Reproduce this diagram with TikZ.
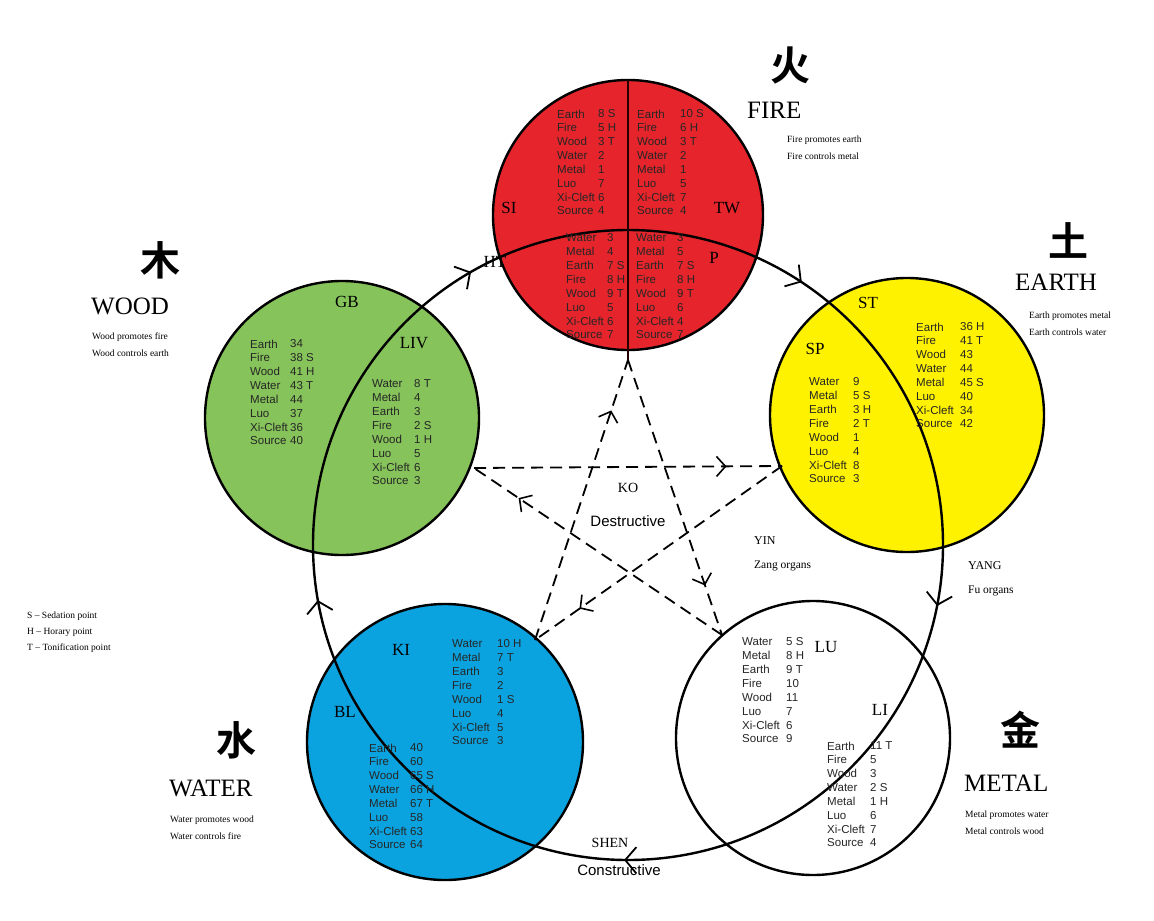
\documentclass[tikz,border=0pt]{standalone}
\usepackage{fontspec}
\setmainfont{Liberation Serif}
\setsansfont{Liberation Sans}
\newfontfamily\cjk{Noto Sans CJK SC Bold}
\usetikzlibrary{arrows.meta,decorations.markings}
\definecolor{fired}{HTML}{E5242B}
\definecolor{earthy}{HTML}{FFF200}
\definecolor{woodg}{HTML}{86C35A}
\definecolor{waterb}{HTML}{0BA3DF}
\tikzset{
  elem/.style={draw=black,line width=2.4pt},
  tbl/.style={font=\sffamily\fontsize{11.5}{12}\selectfont,anchor=west,inner sep=0pt,text=black!85},
  organ/.style={font=\fontsize{17}{18}\selectfont,inner sep=0pt},
  ename/.style={font=\fontsize{25}{26}\selectfont,anchor=west,inner sep=0pt},
  note/.style={font=\fontsize{9.5}{10}\selectfont,anchor=west,inner sep=0pt},
  hanzi/.style={font=\cjk\fontsize{40}{40}\selectfont,inner sep=0pt},
  kochev/.style={postaction={decorate},decoration={markings,mark=at position 0.82 with {\arrow{Straight Barb[length=9pt,width=20pt,line width=1.6pt]}}}},
  ko/.style={dashed,dash pattern=on 12pt off 7pt,line width=1.8pt,kochev},
}
\newcommand\organtable[5]{%
  \foreach \n/\v [count=\i from 0] in {#5}{
    \node[tbl] (#1n\i) at (#2,#4+\i*13.85) {\n};
    \node[tbl] (#1v\i) at (#3,#4+\i*13.85) {\v};
  }}
\begin{document}
\begin{tikzpicture}[x=1pt,y=-1pt]
\useasboundingbox (0,0) rectangle (1154,921);
\fill[white] (0,0) rectangle (1154,921);
% element circles
\draw[elem,fill=fired] (628,215) circle (135);
\draw[elem,fill=earthy] (907,415) circle (137);
\draw[elem,fill=white] (813,738) circle (137);
\draw[elem,fill=waterb] (445,742) circle (138);
\draw[elem,fill=woodg] (342,418) circle (137);
% shen cycle
\draw[line width=2.4pt,postaction={decorate},decoration={markings,
  mark=at position 0.031 with {\arrow{Straight Barb[length=11pt,width=26pt,line width=1.8pt]}},
  mark=at position 0.252 with {\arrow{Straight Barb[length=11pt,width=26pt,line width=1.8pt]}},
  mark=at position 0.472 with {\arrow{Straight Barb[length=11pt,width=26pt,line width=1.8pt]}},
  mark=at position 0.667 with {\arrow{Straight Barb[length=11pt,width=26pt,line width=1.8pt]}},
  mark=at position 0.843 with {\arrow{Straight Barb[length=11pt,width=26pt,line width=1.8pt]}}}]
  (628,545) circle (315);
% fire divider
\coordinate (ftop) at (628,80);
\coordinate (fbot) at (628,360);
\draw[line width=2.6pt,black!85!red] (ftop) -- (fbot);
% ko cycle
\coordinate (kfire) at (628,360);
\coordinate (kearth) at (782,466);
\coordinate (kmetal) at (722,635);
\coordinate (kwater) at (535,640);
\coordinate (kwood) at (474,468);
\draw[ko] (kfire) -- (kmetal);
\draw[ko] (kmetal) -- (kwood);
\draw[ko] (kwood) -- (kearth);
\draw[ko] (kearth) -- (kwater);
\draw[ko] (kwater) -- (kfire);
% tables
\organtable{si}{557}{598}{114}{Earth/8 S,Fire/5 H,Wood/3 T,Water/2,Metal/1,Luo/7,Xi-Cleft/6,Source/4}
\organtable{tw}{637}{680}{114}{Earth/10 S,Fire/6 H,Wood/3 T,Water/2,Metal/1,Luo/5,Xi-Cleft/7,Source/4}
\organtable{ht}{566}{607}{238}{Water/3,Metal/4,Earth/7 S,Fire/8 H,Wood/9 T,Luo/5,Xi-Cleft/6,Source/7}
\organtable{pc}{636}{677}{238}{Water/3,Metal/5,Earth/7 S,Fire/8 H,Wood/9 T,Luo/6,Xi-Cleft/4,Source/7}
\organtable{gb}{250}{290}{344}{Earth/34,Fire/38 S,Wood/41 H,Water/43 T,Metal/44,Luo/37,Xi-Cleft/36,Source/40}
\organtable{lv}{372}{414}{384}{Water/8 T,Metal/4,Earth/3,Fire/2 S,Wood/1 H,Luo/5,Xi-Cleft/6,Source/3}
\organtable{st}{916}{960}{327}{Earth/36 H,Fire/41 T,Wood/43,Water/44,Metal/45 S,Luo/40,Xi-Cleft/34,Source/42}
\organtable{sp}{809}{853}{382}{Water/9,Metal/5 S,Earth/3 H,Fire/2 T,Wood/1,Luo/4,Xi-Cleft/8,Source/3}
\organtable{ki}{452}{497}{644}{Water/10 H,Metal/7 T,Earth/3,Fire/2,Wood/1 S,Luo/4,Xi-Cleft/5,Source/3}
\organtable{bl}{369}{410}{748}{Earth/40,Fire/60,Wood/65 S,Water/66 H,Metal/67 T,Luo/58,Xi-Cleft/63,Source/64}
\organtable{lu}{742}{786}{642}{Water/5 S,Metal/8 H,Earth/9 T,Fire/10,Wood/11,Luo/7,Xi-Cleft/6,Source/9}
\organtable{li}{827}{870}{746}{Earth/11 T,Fire/5,Wood/3,Water/2 S,Metal/1 H,Luo/6,Xi-Cleft/7,Source/4}
% organ labels
\node[organ] (SI) at (509,208) {SI};
\node[organ] (TW) at (727,208) {TW};
\node[organ] (HT) at (495,262) {HT};
\node[organ] (P) at (714,258) {P};
\node[organ] (GB) at (347,302) {GB};
\node[organ] (LIV) at (414,343) {LIV};
\node[organ] (ST) at (868,303) {ST};
\node[organ] (SP) at (815,349) {SP};
\node[organ] (KI) at (401,650) {KI};
\node[organ] (BL) at (345,712) {BL};
\node[organ] (LU) at (826,647) {LU};
\node[organ] (LI) at (880,710) {LI};
% center labels
\node[font=\fontsize{14}{14}\selectfont] (KO) at (628,488) {KO};
\node[font=\sffamily\fontsize{15}{15}\selectfont] (destr) at (628,521) {Destructive};
\node[note,font=\fontsize{12}{12}\selectfont] (yin) at (754,541) {YIN};
\node[note,font=\fontsize{11.5}{12}\selectfont] (zang) at (754,566) {Zang organs};
\node[note,font=\fontsize{12}{12}\selectfont] (yang) at (968,566) {YANG};
\node[note,font=\fontsize{11.5}{12}\selectfont] (fu) at (968,591) {Fu organs};
\node[font=\fontsize{14}{14}\selectfont] (shen) at (610,843) {SHEN};
\node[font=\sffamily\fontsize{15}{15}\selectfont] (constr) at (619,870) {Constructive};
% element names
\node[hanzi] (hfire) at (790,65) {火};
\node[hanzi] (hearth) at (1068,240) {土};
\node[hanzi] (hwood) at (160,260) {木};
\node[hanzi] (hwater) at (236,740) {水};
\node[hanzi] (hmetal) at (1020,730) {金};
\node[ename] (efire) at (747,110) {FIRE};
\node[ename] (eearth) at (1015,282) {EARTH};
\node[ename] (ewood) at (91,306) {WOOD};
\node[ename] (ewater) at (169,788) {WATER};
\node[ename] (emetal) at (964,783) {METAL};
\node[note] (n1) at (787,140) {Fire promotes earth};
\node[note] (n2) at (787,156) {Fire controls metal};
\node[note] (n3) at (1029,316) {Earth promotes metal};
\node[note] (n4) at (1029,332) {Earth controls water};
\node[note] (n5) at (92,337) {Wood promotes fire};
\node[note] (n6) at (92,353) {Wood controls earth};
\node[note] (n7) at (170,820) {Water promotes wood};
\node[note] (n8) at (170,836) {Water controls fire};
\node[note] (n9) at (965,815) {Metal promotes water};
\node[note] (n10) at (965,831) {Metal controls wood};
\node[note] (l1) at (27,616) {S -- Sedation point};
\node[note] (l2) at (27,632) {H -- Horary point};
\node[note] (l3) at (27,648) {T -- Tonification point};
\end{tikzpicture}
\end{document}
